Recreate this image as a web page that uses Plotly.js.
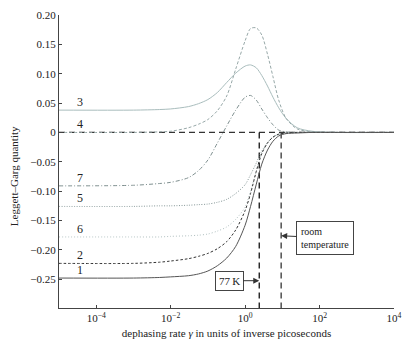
<!DOCTYPE html>
<html>
<head>
<meta charset="utf-8">
<script src="https://cdn.plot.ly/plotly-3.0.1.min.js"></script>
<style>
  html, body { margin: 0; padding: 0; background: #fff; }
  #chart { width: 415px; height: 355px; }
</style>
</head>
<body>
<div id="chart"></div>
<script>
// dephasing rate (inverse ps)
var gamma = [1e-5, 1e-3, 5e-3, 0.01, 0.03, 0.056, 0.1, 0.18, 0.32, 0.56, 1, 1.4, 2, 2.8, 4, 5.6, 8, 12.6, 25, 63, 300, 1e4];

var curve1 = [-0.248, -0.248, -0.247, -0.246, -0.244, -0.241, -0.236, -0.227, -0.214, -0.194, -0.158, -0.126, -0.088, -0.054, -0.030, -0.015, -0.006, -0.002, -0.001, 0, 0, 0];
var curve2 = [-0.223, -0.223, -0.221, -0.219, -0.215, -0.211, -0.206, -0.198, -0.186, -0.166, -0.133, -0.104, -0.066, -0.036, -0.018, -0.008, -0.003, -0.001, 0, 0, 0, 0];
var curve6 = [-0.178, -0.178, -0.178, -0.177, -0.176, -0.175, -0.173, -0.168, -0.161, -0.148, -0.127, -0.100, -0.066, -0.036, -0.018, -0.008, -0.003, -0.001, 0, 0, 0, 0];
var curve5 = [-0.126, -0.126, -0.125, -0.125, -0.124, -0.123, -0.122, -0.119, -0.114, -0.104, -0.089, -0.072, -0.052, -0.032, -0.017, -0.008, -0.003, -0.001, 0, 0, 0, 0];
var curve7 = [-0.091, -0.090, -0.087, -0.085, -0.077, -0.065, -0.047, -0.018, 0.011, 0.038, 0.060, 0.063, 0.055, 0.040, 0.025, 0.013, 0.004, 0.001, 0, 0, 0, 0];
var curve4 = [0, 0, 0.001, 0.002, 0.008, 0.014, 0.022, 0.037, 0.062, 0.108, 0.156, 0.177, 0.178, 0.166, 0.133, 0.095, 0.055, 0.024, 0.006, 0.001, 0, 0];
var curve3 = [0.038, 0.038, 0.039, 0.040, 0.044, 0.049, 0.056, 0.068, 0.085, 0.101, 0.113, 0.115, 0.110, 0.097, 0.079, 0.060, 0.042, 0.024, 0.008, 0.002, 0, 0];

var labelText = ['3', '4', '7', '5', '6', '2', '1'];
var labelLevel = [0.038, 0, -0.091, -0.126, -0.178, -0.223, -0.248];

// 77 K and room temperature dephasing rates
var tempGamma = [2.4, 9.3];
var tempText = ['77\u2009K', 'room<br>temperature'];
var tempArrowY = [-0.2525, -0.176];

var serif = 'Liberation Serif, Times New Roman, serif';

function line(y, color, dash) {
    return {
        x: gamma, y: y, type: 'scatter', mode: 'lines',
        line: {color: color, width: 1, dash: dash, shape: 'spline', smoothing: 0.8},
        hoverinfo: 'skip'
    };
}

var traces = [
    {x: [gamma[0], gamma[gamma.length - 1]], y: [0, 0], type: 'scatter', mode: 'lines',
     line: {color: '#333', width: 1.2, dash: '6px,4px'}},
    {x: [tempGamma[0], tempGamma[0]], y: [0, -0.3], type: 'scatter', mode: 'lines',
     line: {color: '#222', width: 1.4, dash: '6px,4px'}},
    {x: [tempGamma[1], tempGamma[1]], y: [0, -0.3], type: 'scatter', mode: 'lines',
     line: {color: '#444', width: 1.4, dash: '6px,4px'}},
    line(curve3, '#a9bdbd', 'solid'),
    line(curve4, '#97a8a8', '3px,2px'),
    line(curve7, '#7f9090', '4px,2px,1px,2px'),
    line(curve5, '#8a9b9b', '1px,1.5px'),
    line(curve6, '#b3c2c2', '1px,2px'),
    line(curve2, '#333', '2.5px,2px'),
    line(curve1, '#555', 'solid')
];

var annotations = [];
for (var i = 0; i < labelText.length; i++) {
    annotations.push({
        x: Math.log10(3.6e-5), y: labelLevel[i], xref: 'x', yref: 'y',
        text: labelText[i], showarrow: false, yshift: 8,
        font: {family: serif, size: 12, color: '#222'}
    });
}
annotations.push({
    x: Math.log10(tempGamma[0]), y: tempArrowY[0], xref: 'x', yref: 'y',
    text: tempText[0], showarrow: true, ax: -30, ay: 0,
    arrowhead: 2, arrowsize: 1.2, arrowwidth: 1, arrowcolor: '#333',
    bordercolor: '#444', borderwidth: 1, borderpad: 3, bgcolor: '#fff',
    font: {family: serif, size: 11, color: '#222'}
});
annotations.push({
    x: Math.log10(tempGamma[1]), y: tempArrowY[1], xref: 'x', yref: 'y',
    text: tempText[1], align: 'left', showarrow: true, ax: 44, ay: 2,
    arrowhead: 2, arrowsize: 1.2, arrowwidth: 1, arrowcolor: '#333',
    bordercolor: '#444', borderwidth: 1, borderpad: 4, bgcolor: '#fff',
    font: {family: serif, size: 10, color: '#222'}
});
// y title placed in pixels from the left edge
annotations.push({
    x: (14 - 59) / 335, y: 0.45, xref: 'paper', yref: 'paper', xanchor: 'center', yanchor: 'middle',
    text: 'Leggett\u2013Garg quantity', textangle: -90, showarrow: false,
    font: {family: serif, size: 11, color: '#222'}
});

var layout = {
    width: 415, height: 355,
    margin: {l: 59, r: 21, t: 15, b: 47},
    paper_bgcolor: '#fff', plot_bgcolor: '#fff',
    showlegend: false,
    font: {family: serif, size: 11, color: '#222'},
    xaxis: {
        type: 'log', range: [-5, 4],
        tickvals: [1e-4, 1e-2, 1, 1e2, 1e4],
        ticktext: ['10<sup>\u22124</sup>', '10<sup>\u22122</sup>', '10<sup>0</sup>', '10<sup>2</sup>', '10<sup>4</sup>'],
        ticks: 'inside', ticklen: 3, tickcolor: '#444',
        showline: true, linecolor: '#444', linewidth: 1,
        showgrid: false, zeroline: false,
        tickfont: {family: serif, size: 11, color: '#222'},
        title: {text: 'dephasing rate <i>\u03b3</i> in units of inverse picoseconds',
                font: {family: serif, size: 11, color: '#222'}, standoff: 6}
    },
    yaxis: {
        range: [-0.299, 0.2],
        tickvals: [0.2, 0.15, 0.1, 0.05, 0, -0.05, -0.1, -0.15, -0.2, -0.25],
        ticktext: ['0.20', '0.15', '0.10', '0.05', '0', '\u22120.05', '\u22120.10', '\u22120.15', '\u22120.20', '\u22120.25'],
        ticks: 'inside', ticklen: 3, tickcolor: '#444',
        showline: true, linecolor: '#444', linewidth: 1,
        showgrid: false, zeroline: false,
        tickfont: {family: serif, size: 11, color: '#222'}
    },
    annotations: annotations
};

Plotly.newPlot('chart', traces, layout, {displayModeBar: false, staticPlot: true});
</script>
</body>
</html>
